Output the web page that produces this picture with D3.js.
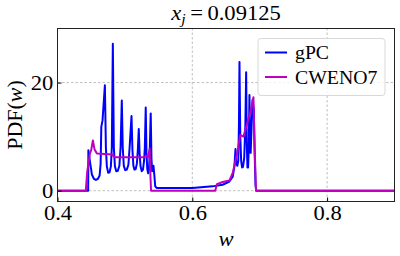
<!DOCTYPE html>
<html>
<head>
<meta charset="utf-8">
<script src="https://cdn.jsdelivr.net/npm/d3@7"></script>
<style>
  body { margin: 0; background: #fff; }
  text { font-family: "Liberation Serif", "Times New Roman", serif; }
</style>
</head>
<body>
<div id="viz"></div>
<script>
// gPC curve
var gpcW = [0.400, 0.4455, 0.4458, 0.4480, 0.4510, 0.4540, 0.4570, 0.4600, 0.4625, 0.4640, 0.4650, 0.4668, 0.4703,
  0.4718, 0.4732, 0.4752, 0.4772, 0.4792, 0.4806, 0.4821, 0.4836, 0.4852, 0.4872, 0.4895, 0.4918, 0.4936, 0.4954,
  0.4968, 0.4984, 0.5005, 0.5028, 0.5052, 0.5070, 0.5098, 0.5112, 0.5126, 0.5142, 0.5160, 0.5178, 0.5192, 0.5206,
  0.5218, 0.5232, 0.5250, 0.5268, 0.5284, 0.5296, 0.5309, 0.5320, 0.5332, 0.5345, 0.5358, 0.5368, 0.5383, 0.5394,
  0.5404, 0.5414, 0.5424, 0.5436, 0.5450, 0.5470, 0.600, 0.630, 0.645, 0.655, 0.6600, 0.6625, 0.6641, 0.6652,
  0.6668, 0.6682, 0.6692, 0.6700, 0.6712, 0.6725, 0.6738, 0.6752, 0.6770, 0.6787, 0.6799, 0.6808, 0.6818, 0.6828,
  0.6838, 0.6848, 0.6858, 0.6866, 0.6880, 0.6895, 0.6912, 0.6925, 0.6938, 0.6950, 0.900];
var gpcPdf = [0, 0, 7.5, 5.5, 3.0, 2.2, 2.0, 2.2, 2.8, 5.0, 11.8, 13.0, 19.5,
  8.0, 4.5, 3.3, 3.4, 4.5, 8.0, 27.2, 8.0, 4.5, 3.6, 3.7, 4.6, 8.0, 16.7,
  8.0, 4.6, 3.8, 3.9, 4.8, 8.0, 13.8, 7.5, 4.6, 3.9, 4.0, 5.0, 7.5, 11.4,
  7.0, 4.5, 3.6, 3.9, 5.5, 8.0, 15.4, 7.0, 4.0, 3.2, 4.0, 7.0, 14.3, 6.0,
  3.6, 4.0, 4.6, 3.0, 0.8, 0.5, 0.5, 0.8, 1.1, 1.7, 2.6, 4.5, 7.7, 5.0,
  4.6, 5.5, 12.0, 23.8, 10.0, 5.5, 4.3, 4.4, 6.0, 12.0, 21.9, 9.0, 4.3, 4.3,
  8.0, 17.7, 9.0, 7.0, 12.0, 16.8, 15.0, 7.0, 1.0, 0, 0];

// CWENO7 curve
var cwenoW = [0.400, 0.4420, 0.4441, 0.4481, 0.4500, 0.4525, 0.4550, 0.4584, 0.4700, 0.4810, 0.4840, 0.5290,
  0.5320, 0.5345, 0.5368, 0.5378, 0.5388, 0.6340, 0.6365, 0.6450, 0.6552, 0.6600, 0.6675, 0.6710, 0.6759,
  0.6799, 0.6873, 0.6907, 0.6925, 0.6945, 0.900];
var cwenoPdf = [0, 0, 3.5, 6.9, 7.5, 9.3, 7.6, 6.9, 6.8, 6.7, 6.2, 6.2,
  6.4, 6.2, 7.8, 3.0, 0, 0, 1.2, 1.6, 1.9, 3.3, 7.5, 10.3, 10.0,
  11.8, 15.2, 17.3, 8.0, 0, 0];

var xTicks = [0.4, 0.6, 0.8];
var yTicks = [0, 20];
var seriesNames = ["gPC", "CWENO7"];
var seriesColors = ["#0000ff", "#bf00bf"];

var width = 400, height = 256;
var margin = {top: 28.5, right: 5.5, bottom: 54.5, left: 57.5};
var stretch = 1.13; // the reference text is a bit wide

var x = d3.scaleLinear().domain([0.4, 0.9]).range([margin.left, width - margin.right]);
var y = d3.scaleLinear().domain([-2, 30]).range([height - margin.bottom, margin.top]);

var svg = d3.select('#viz').append('svg')
  .attr('width', width)
  .attr('height', height);

// grid
svg.append('g').selectAll('line')
  .data(xTicks)
  .join('line')
  .attr('x1', d => x(d)).attr('x2', d => x(d))
  .attr('y1', y.range()[0]).attr('y2', y.range()[1])
  .attr('stroke', '#b0b0b0').attr('stroke-width', 0.8).attr('stroke-dasharray', '2.5,2');
svg.append('g').selectAll('line')
  .data(yTicks)
  .join('line')
  .attr('x1', x.range()[0]).attr('x2', x.range()[1])
  .attr('y1', d => y(d)).attr('y2', d => y(d))
  .attr('stroke', '#b0b0b0').attr('stroke-width', 0.8).attr('stroke-dasharray', '2.5,2');

// curves
var line = d3.line().x(d => x(d[0])).y(d => y(d[1]));
var gpcData = gpcW.map((w, i) => [w, gpcPdf[i]]);
var cwenoData = cwenoW.map((w, i) => [w, cwenoPdf[i]]);

var plot = svg.append('g');
plot.append('path')
  .attr('d', line(gpcData))
  .attr('fill', 'none')
  .attr('stroke', seriesColors[0])
  .attr('stroke-width', 2)
  .attr('stroke-linejoin', 'round');
plot.append('path')
  .attr('d', line(cwenoData))
  .attr('fill', 'none')
  .attr('stroke', seriesColors[1])
  .attr('stroke-width', 2)
  .attr('stroke-linejoin', 'round');

// axes (ticks pointing in)
svg.append('g')
  .attr('transform', 'translate(0,' + y.range()[0] + ')')
  .call(d3.axisBottom(x).tickValues(xTicks).tickSizeInner(-4).tickSizeOuter(0).tickFormat(d3.format('.1f')))
  .attr('font-family', null)
  .call(g => g.select('.domain').remove())
  .call(g => g.selectAll('text')
    .attr('font-size', 20).attr('fill', '#000')
    .attr('font-family', 'Liberation Serif')
    .attr('y', 18.5).attr('dy', null)
    .attr('transform', 'scale(' + stretch + ',1)'));
svg.append('g')
  .attr('transform', 'translate(' + x.range()[0] + ',0)')
  .call(d3.axisLeft(y).tickValues(yTicks).tickSizeInner(-4).tickSizeOuter(0))
  .attr('font-family', null)
  .call(g => g.select('.domain').remove())
  .call(g => g.selectAll('text')
    .attr('font-size', 20).attr('fill', '#000')
    .attr('font-family', 'Liberation Serif')
    .attr('x', -4.2 / stretch).attr('dy', '0.34em')
    .attr('transform', 'scale(' + stretch + ',1)'));

// frame
svg.append('rect')
  .attr('x', x.range()[0]).attr('y', y.range()[1])
  .attr('width', x.range()[1] - x.range()[0])
  .attr('height', y.range()[0] - y.range()[1])
  .attr('fill', 'none').attr('stroke', '#222').attr('stroke-width', 1);

// title
var title = svg.append('text')
  .attr('transform', 'translate(' + ((x.range()[0] + x.range()[1]) / 2) + ',19.5) scale(' + stretch + ',1)')
  .attr('text-anchor', 'middle')
  .attr('font-size', 20);
title.append('tspan').attr('font-style', 'italic').text('x');
title.append('tspan').attr('font-style', 'italic').attr('font-size', 14).attr('dy', 4).text('j');
title.append('tspan').attr('dy', -4).text('\u2009=\u20090.09125');

// axis labels
svg.append('text')
  .attr('transform', 'translate(' + ((x.range()[0] + x.range()[1]) / 2) + ',246) scale(' + stretch + ',1)')
  .attr('text-anchor', 'middle')
  .attr('font-size', 20)
  .attr('font-style', 'italic')
  .text('w');
var ylab = svg.append('text')
  .attr('transform', 'translate(22,' + ((y.range()[0] + y.range()[1]) / 2) + ') rotate(-90)')
  .attr('text-anchor', 'middle')
  .attr('font-size', 22);
ylab.append('tspan').text('PDF(');
ylab.append('tspan').attr('font-style', 'italic').text('w');
ylab.append('tspan').text(')');

// legend
var legend = svg.append('g');
legend.append('rect')
  .attr('x', 258).attr('y', 38.5).attr('width', 127).attr('height', 57)
  .attr('rx', 3)
  .attr('fill', 'rgba(255,255,255,0.8)')
  .attr('stroke', '#d8d8d8').attr('stroke-width', 1);
var items = legend.selectAll('g.item')
  .data(seriesNames)
  .join('g')
  .attr('class', 'item')
  .attr('transform', (d, i) => 'translate(265,' + (52.5 + i * 24.5) + ')');
items.append('line')
  .attr('x1', 0).attr('x2', 22)
  .attr('stroke', (d, i) => seriesColors[i]).attr('stroke-width', 2);
items.append('text')
  .attr('transform', 'translate(30,6.5) scale(1.04,1)')
  .attr('font-size', 19)
  .text(d => d);
</script>
</body>
</html>
